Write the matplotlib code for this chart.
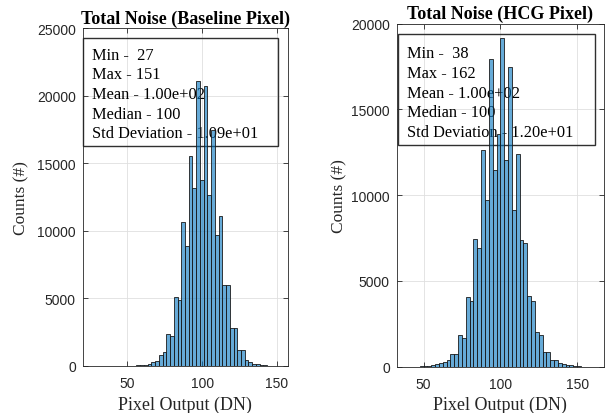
import numpy as np
import matplotlib.pyplot as plt
import matplotlib.patches as mpatches

# histogram counts, bin width 2.5 DN
bin_width = 2.5
base_start = 26.0
base_counts = [1, 0, 1, 1, 2, 3, 5, 6, 10, 14, 20, 28, 40, 60, 95, 150, 270, 370,
               850, 1060, 2350, 2250, 5100, 4920, 10660, 8850, 15530, 13180, 21120,
               13800, 20750, 12630, 17460, 9670, 11100, 5960, 5960, 2790, 2790,
               1190, 1190, 445, 270, 170, 120, 70, 40, 20, 10, 5, 1]
hcg_start = 37.5
hcg_counts = [1, 3, 6, 10, 20, 35, 60, 100, 163, 222, 300, 414, 747, 747, 1855,
              1680, 4090, 3860, 7456, 6910, 12650, 9690, 17960, 11480, 13580,
              19180, 12060, 17470, 9110, 12410, 7360, 7220, 4110, 3860, 2010,
              1850, 845, 845, 400, 400, 222, 163, 130, 90, 50, 30, 15, 8, 4, 2]

titles = ['Total Noise (Baseline Pixel)', 'Total Noise (HCG Pixel)']
stats = [['Min -  27', 'Max - 151', 'Mean - 1.00e+02', 'Median - 100', 'Std Deviation - 1.09e+01'],
         ['Min -  38', 'Max - 162', 'Mean - 1.00e+02', 'Median - 100', 'Std Deviation - 1.20e+01']]
xlims = [(20, 157.5), (32.5, 167.5)]
ylims = [(0, 25000), (0, 20000)]
xticks = [50, 100, 150]

W, H = 607, 414
fig = plt.figure(figsize=(W / 100, H / 100), dpi=100)

def fx(px):
    return px / W

def fy(py):
    return 1 - py / H

# axes boxes in pixels: left, top, right, bottom
boxes = [(82.7, 29.3, 288, 367), (396.7, 24.5, 604, 367.8)]
# stats boxes in pixels
stat_boxes = [(83, 39, 278, 147), (398.3, 35, 595, 145.7)]
text_pos = [(91.7, 47.8), (406.7, 46.3)]
ylabel_x = [21, 339]

serif = ['Liberation Serif', 'DejaVu Serif']
sans = ['Liberation Sans', 'DejaVu Sans']
dark = '#262626'

data = [(base_start, base_counts), (hcg_start, hcg_counts)]
for k in range(2):
    l, t, r, b = boxes[k]
    ax = fig.add_axes([fx(l), fy(b), fx(r) - fx(l), fy(t) - fy(b)])
    start, counts = data[k]
    edges = start + bin_width * np.arange(len(counts))
    ax.bar(edges, counts, width=bin_width, align='edge',
           facecolor=(0, 0.447, 0.741, 0.6), edgecolor='#1a1a1a',
           linewidth=0.6, zorder=2)
    ax.set_xlim(*xlims[k])
    ax.set_ylim(*ylims[k])
    ax.set_xticks(xticks)
    ax.set_yticks(np.arange(0, ylims[k][1] + 1, 5000))
    ax.set_axisbelow(True)
    ax.grid(True, color='#dfdfdf', linewidth=0.6)
    ax.tick_params(direction='in', top=True, right=True, length=3.5,
                   width=0.6, color=dark, labelcolor=dark, labelsize=10)
    ax.tick_params(axis='x', pad=7)
    ax.tick_params(axis='y', pad=5)
    for lab in ax.get_xticklabels() + ax.get_yticklabels():
        lab.set_family(sans)
    for s in ax.spines.values():
        s.set_color(dark)
        s.set_linewidth(0.6)
    ax.set_title(titles[k], fontsize=13, fontweight='bold', family=serif, pad=4)
    ax.set_xlabel('Pixel Output (DN)', fontsize=13, family=serif, color=dark, labelpad=4)
    fig.text(fx(ylabel_x[k]), fy((t + b) / 2), 'Counts (#)', rotation=90,
             ha='center', va='center', fontsize=12.5, family=serif, color=dark)

    sl, st, sr, sb = stat_boxes[k]
    rect = mpatches.Rectangle((fx(sl), fy(sb)), fx(sr) - fx(sl), fy(st) - fy(sb),
                              transform=fig.transFigure, fill=False,
                              edgecolor='#303030', linewidth=1.0, zorder=1,
                              clip_on=False)
    ax.add_patch(rect)
    ax.text(fx(text_pos[k][0]), fy(text_pos[k][1]), '\n'.join(stats[k]),
            transform=fig.transFigure, ha='left', va='top', fontsize=11.8,
            family=serif, linespacing=1.3, zorder=1, clip_on=False)

fig.savefig('out.png', dpi=100)
